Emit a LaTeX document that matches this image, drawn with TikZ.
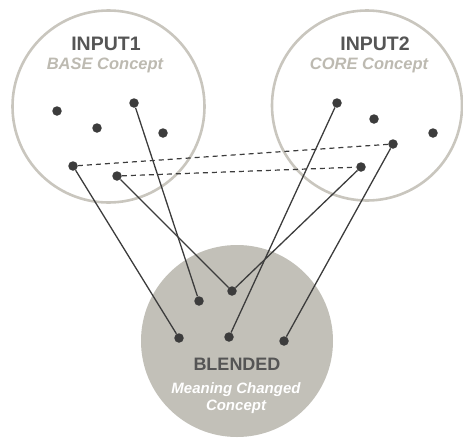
\documentclass[tikz,border=0pt]{standalone}
\usepackage{fontspec}
\setmainfont{Liberation Sans}
\definecolor{ringgray}{HTML}{C9C6BE}
\definecolor{blendfill}{HTML}{C2C0B8}
\definecolor{dotgray}{HTML}{3C3C3C}
\definecolor{titlegray}{HTML}{555555}
\definecolor{subgray}{HTML}{BDBAB1}
\begin{document}
\begin{tikzpicture}[x=1pt,y=-1pt,
  ring/.style={draw=ringgray,line width=2.6pt},
  blendring/.style={fill=blendfill},
  pt/.style={circle,fill=dotgray,inner sep=0pt,minimum size=9.5pt},
  link/.style={draw=dotgray,line width=1.3pt},
  dashlink/.style={draw=dotgray,line width=1.2pt,dash pattern=on 5pt off 4pt},
  title/.style={text=titlegray,font=\bfseries\fontsize{19.5}{22}\selectfont},
  subtitle/.style={text=subgray,font=\bfseries\itshape\fontsize{16.5}{18}\selectfont},
  btitle/.style={text=titlegray,font=\bfseries\fontsize{18}{21}\selectfont},
  bsub/.style={text=white,font=\bfseries\itshape\fontsize{15}{18}\selectfont,align=center}]
\useasboundingbox (0,0) rectangle (463,437);

% the two input spaces and the blended space
\draw[ring] (108.5,106.5) circle (96);
\draw[ring] (367,105.5) circle (95);
\fill[blendring] (237,341) circle (96);

% labels
\node[title] (t1) at (106,44) {INPUT1};
\node[subtitle] (s1) at (105,65) {BASE Concept};
\node[title] (t2) at (375,44) {INPUT2};
\node[subtitle] (s2) at (369,65) {CORE Concept};
\node[btitle] (tb) at (237,364) {BLENDED};
\node[bsub] (sb) at (236,398) {Meaning Changed\\[-1pt]Concept};

% elements of input 1
\node[pt] (a1) at (57,111) {};
\node[pt] (a2) at (97,128) {};
\node[pt] (a3) at (134,103) {};
\node[pt] (a4) at (163,133) {};
\node[pt] (a5) at (73,166) {};
\node[pt] (a6) at (117,176) {};

% elements of input 2
\node[pt] (b1) at (337,103) {};
\node[pt] (b2) at (374,119) {};
\node[pt] (b3) at (433,133) {};
\node[pt] (b4) at (393,144) {};
\node[pt] (b5) at (361,167) {};

% elements of the blend
\node[pt] (c1) at (199,301) {};
\node[pt] (c2) at (232,291) {};
\node[pt] (c3) at (179,338) {};
\node[pt] (c4) at (229,337) {};
\node[pt] (c5) at (284,341) {};

% cross-space correspondences
\draw[dashlink] (a5) -- (b4);
\draw[dashlink] (a6) -- (b5);

% projections into the blend
\draw[link] (a5) -- (c3);
\draw[link] (a6) -- (c2);
\draw[link] (a3) -- (c1);
\draw[link] (b1) -- (c4);
\draw[link] (b5) -- (c2);
\draw[link] (b4) -- (c5);
\end{tikzpicture}
\end{document}
